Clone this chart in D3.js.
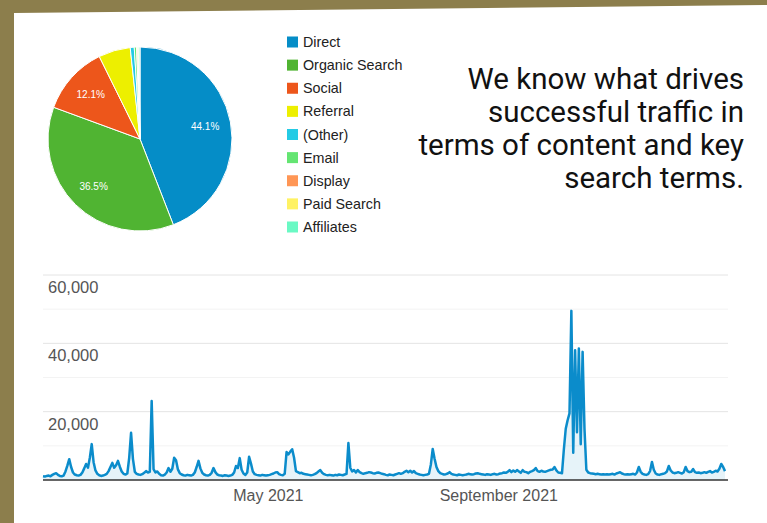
<!DOCTYPE html>
<html><head><meta charset="utf-8">
<script src="https://cdn.jsdelivr.net/npm/d3@7"></script>
<style>html,body{margin:0;padding:0;background:#fff;}svg{display:block;}</style>
</head><body>
<svg id="c" width="767" height="523"></svg>
<script>
// ---- data ----
const channels = ["Direct","Organic Search","Social","Referral","(Other)","Email","Display","Paid Search","Affiliates"];
const channelShare = [44.1, 36.5, 12.1, 5.6, 0.7, 0.4, 0.2, 0.2, 0.2];
const channelColors = ["#058DC7","#50B432","#ED561B","#EDEF00","#24CBE5","#64E572","#FF9655","#FFF263","#6AF9C4"];
const shownLabels = ["44.1%","36.5%","12.1%"];
const headline = ["We know what drives","successful traffic in","terms of content and key","search terms."];
const startDay = "2021-01-01";
const dailySessions = [
1100,1000,1200,1300,1100,1500,1800,2000,1500,1200,
1100,1300,2500,4200,6100,3800,2200,1600,1400,1300,
1500,2200,3400,4700,3600,6500,10500,5200,2800,1800,
1400,1200,1300,1500,1800,2600,3800,5000,3600,4300,
5600,3900,2500,1800,1600,1900,6500,13800,6200,2400,
1800,1600,1500,1700,2100,2600,2200,2400,23100,3200,
2200,2500,1800,1400,1300,1600,2200,3500,2400,3300,
6500,5800,3100,2000,1600,1400,1300,1500,1400,1300,
1500,2200,3800,5600,3400,2100,1600,1400,1300,1500,
2100,3500,2300,1600,1400,1300,1200,1400,1300,1200,
1300,1500,2200,4100,3500,6400,3000,1900,1500,2200,
6800,4800,2500,1700,1500,1400,1300,1500,1400,1300,
1400,1500,1700,1900,2200,2300,1700,1500,1400,1800,
8200,7500,8300,9000,6500,2600,2300,2000,2100,1800,
1700,1600,1500,1400,1500,1700,2000,2500,2900,2100,
1700,1500,1400,1500,1400,1300,1500,1400,1600,1500,
1400,1600,1800,10800,3600,2500,2900,2200,2900,2300,
2000,1800,2000,2100,2300,2200,2000,1900,2100,2200,
2000,1800,1700,1500,1400,1600,1500,1400,1600,1800,
2000,1800,2000,2400,2700,2300,2700,2200,2600,2000,
1800,1600,1500,1400,1500,1600,1800,4500,9100,6200,
3800,2600,2000,1800,1600,1700,1900,2300,1800,1600,
1500,1400,1600,1500,1400,1500,1600,1800,1700,1600,
1700,1900,2000,1800,1700,1600,1500,1700,1600,1500,
1700,1800,1600,1700,1900,2000,2200,2100,2400,2900,
2300,2800,2400,2900,2500,2100,2900,2400,2300,2000,
2400,2600,2900,3500,2600,2400,2700,2500,2400,2600,
2800,3000,3100,3800,2800,2200,2100,2000,9000,15000,
17500,19500,49500,8000,38000,14000,38500,10500,37500,15000,
3000,2200,2000,1900,1800,1700,1800,1700,1600,1700,
1600,1700,1600,1700,1800,1600,1900,2100,2300,1900,
1700,1600,1700,1600,1700,1800,1600,2200,3800,2400,
1800,1600,1500,1700,2600,5300,3000,1900,1600,1500,
1700,1800,2000,2500,4100,2800,2200,2000,2100,2300,
2100,1900,2300,3800,2600,2300,2400,3200,2300,2100,
2200,2000,2100,2300,2100,2400,2600,2200,2400,2700,
2500,3300,4700,3800,2600
];
const yTicks = [20000, 40000, 60000];
const yMinor = [10000, 30000, 50000];
const xTickDates = ["2021-05-01","2021-09-01"];

// ---- drawing ----
const svg = d3.select("#c");
const W = 767, H = 523;
svg.append("rect").attr("width", W).attr("height", H).attr("fill", "#8c7e4c");
svg.append("path").attr("d", "M14,13 L767,5 L767,523 L14,523 Z").attr("fill", "#ffffff");

// pie
const cx = 140, cy = 139, R = 92;
const pie = d3.pie().sort(null).value(d => d)(channelShare);
const arc = d3.arc().innerRadius(0).outerRadius(R);
const labelArc = d3.arc().innerRadius(R * 0.72).outerRadius(R * 0.72);
const pg = svg.append("g").attr("transform", `translate(${cx},${cy})`);
pg.selectAll("path").data(pie).join("path")
  .attr("d", arc).attr("fill", (d, i) => channelColors[i])
  .attr("stroke", "#fff").attr("stroke-width", 1);
pg.selectAll("text").data(pie.slice(0, 3)).join("text")
  .attr("transform", d => `translate(${labelArc.centroid(d)})`)
  .attr("text-anchor", "middle").attr("dy", "0.35em")
  .attr("font-family", "Arial, 'Liberation Sans', sans-serif").attr("font-size", 10)
  .attr("fill", "#fff").text((d, i) => shownLabels[i]);

// legend
const lg = svg.append("g");
const rowY = d3.scalePoint().domain(channels).range([42, 227]);
const rows = lg.selectAll("g").data(channels).join("g")
  .attr("transform", d => `translate(287,${rowY(d)})`);
rows.append("rect").attr("x", 0).attr("y", -5.5).attr("width", 11).attr("height", 11)
  .attr("fill", (d, i) => channelColors[i]);
rows.append("text").attr("x", 16).attr("dy", "0.35em")
  .attr("font-family", "Arial, 'Liberation Sans', sans-serif").attr("font-size", 14.3)
  .attr("fill", "#222").text(d => d);

// headline text
svg.append("g").selectAll("text").data(headline).join("text")
  .attr("x", 744).attr("y", (d, i) => 89 + i * 33)
  .attr("text-anchor", "end")
  .attr("font-family", "Roboto, sans-serif").attr("font-size", 29.5)
  .attr("fill", "#111").text(d => d);

// line chart
const parse = d3.timeParse("%Y-%m-%d");
const t0 = parse(startDay);
const series = dailySessions.map((v, i) => ({ date: d3.timeDay.offset(t0, i), v }));
const x = d3.scaleTime().domain([t0, d3.timeDay.offset(t0, dailySessions.length - 1)]).range([43, 725]);
const y = d3.scaleLinear().domain([0, 60000]).range([480, 275]);
const left = 43, right = 728;

const grid = svg.append("g");
grid.selectAll("line.minor").data(yMinor).join("line").attr("class", "minor")
  .attr("x1", left).attr("x2", right).attr("y1", d => y(d)).attr("y2", d => y(d))
  .attr("stroke", "#f3f3f3").attr("stroke-width", 1);
grid.selectAll("line.major").data(yTicks).join("line").attr("class", "major")
  .attr("x1", left).attr("x2", right).attr("y1", d => y(d)).attr("y2", d => y(d))
  .attr("stroke", "#e4e4e4").attr("stroke-width", 1);
grid.selectAll("text").data(yTicks).join("text")
  .attr("x", 48).attr("y", d => y(d) + 18)
  .attr("font-family", "Arial, 'Liberation Sans', sans-serif").attr("font-size", 16.5)
  .attr("fill", "#555").text(d3.format(","));

const area = d3.area().x(d => x(d.date)).y0(y(0)).y1(d => y(d.v));
const line = d3.line().x(d => x(d.date)).y(d => y(d.v));
svg.append("path").datum(series).attr("d", area).attr("fill", "#058DC7").attr("fill-opacity", 0.1);
svg.append("line").attr("x1", left).attr("x2", right).attr("y1", y(0)).attr("y2", y(0))
  .attr("stroke", "#333").attr("stroke-width", 1.5);
svg.append("path").datum(series).attr("d", line).attr("fill", "none")
  .attr("stroke", "#0b8ccb").attr("stroke-width", 2.5).attr("stroke-linejoin", "round");

const xAxis = d3.axisBottom(x).tickValues(xTickDates.map(parse))
  .tickFormat(d3.timeFormat("%B %Y")).tickSize(0).tickPadding(0);
const xg = svg.append("g").attr("transform", "translate(0,490)").call(xAxis);
xg.select(".domain").remove();
xg.selectAll("text").attr("font-family", "Arial, 'Liberation Sans', sans-serif")
  .attr("font-size", 16).attr("fill", "#555");
</script>
</body></html>
